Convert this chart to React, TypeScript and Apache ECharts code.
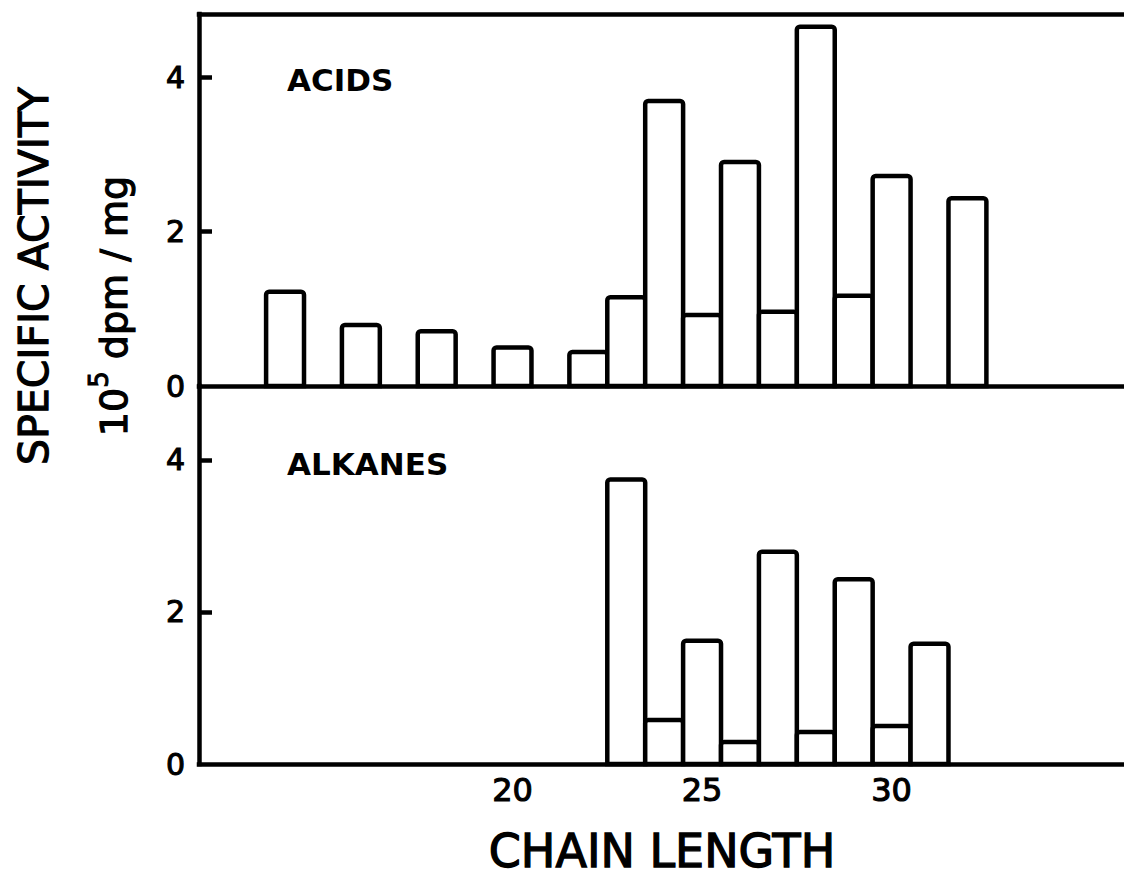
import React, { useEffect, useRef } from "react";
import * as echarts from "echarts";

// ---- Data ----
const acidChain = [14, 16, 18, 20, 22, 23, 24, 25, 26, 27, 28, 29, 30, 32];
const acidActivity = [1.22, 0.79, 0.71, 0.5, 0.44, 1.15, 3.69, 0.92, 2.9, 0.96, 4.65, 1.17, 2.72, 2.43];

const alkaneChain = [23, 24, 25, 26, 27, 28, 29, 30, 31];
const alkaneActivity = [3.74, 0.58, 1.62, 0.29, 2.79, 0.42, 2.43, 0.5, 1.58];

const xTickLabels = [20, 25, 30];
const yTickLabels = [0, 2, 4];

const panelTitles = ["ACIDS", "ALKANES"];
const xTitle = "CHAIN LENGTH";
const yTitle = "SPECIFIC ACTIVITY";

const FONT = "DejaVu Sans";
const BLACK = "#000";
const LW = 4.5;

const X_MIN = 11.73;
const X_MAX = 36.13;

function renderBar(params: any, api: any) {
  const x = api.value(0);
  const y = api.value(1);
  const p0 = api.coord([x - 0.5, 0]);
  const p1 = api.coord([x + 0.5, y]);
  return {
    type: "rect",
    shape: {
      x: p0[0],
      y: p1[1],
      width: p1[0] - p0[0],
      height: p0[1] - p1[1],
      r: [3, 3, 0, 0],
    },
    style: { fill: "#fff", stroke: BLACK, lineWidth: LW },
  };
}

const axisLine = { show: true, onZero: false, lineStyle: { color: BLACK, width: LW, cap: "square" } };

export default function App() {
  const ref = useRef<HTMLDivElement>(null);

  useEffect(() => {
    if (!ref.current) return;
    const chart = echarts.init(ref.current, null, { renderer: "svg" });

    const xBase = {
      type: "value",
      min: X_MIN,
      max: X_MAX,
      axisLine,
      axisTick: { show: false },
      splitLine: { show: false },
    };

    const yBase = (max: number, gridIndex: number) => ({
      type: "value",
      gridIndex,
      min: 0,
      max,
      axisLine,
      axisTick: {
        show: true,
        inside: true,
        length: 13,
        customValues: [2, 4],
        lineStyle: { color: BLACK, width: LW },
      },
      axisLabel: {
        customValues: yTickLabels,
        color: BLACK,
        fontFamily: FONT,
        fontSize: 30,
        margin: 14,
        textBorderColor: BLACK,
        textBorderWidth: 1.1,
      },
      splitLine: { show: false },
    });

    chart.setOption({
      animation: false,
      backgroundColor: "#fff",
      grid: [
        { left: 199, top: 14, width: 925, height: 372 },
        { left: 199, top: 386, width: 925, height: 378 },
      ],
      xAxis: [
        { ...xBase, gridIndex: 0, position: "bottom", axisLabel: { show: false } },
        { ...xBase, gridIndex: 0, position: "top", axisLabel: { show: false } },
        {
          ...xBase,
          gridIndex: 1,
          position: "bottom",
          axisLabel: {
            customValues: xTickLabels,
            color: BLACK,
            fontFamily: FONT,
            fontSize: 32,
            margin: 10,
            textBorderColor: BLACK,
            textBorderWidth: 1.1,
          },
        },
      ],
      yAxis: [yBase(4.816, 0), yBase(4.97, 1)],
      series: [
        {
          type: "custom",
          name: "Acids",
          xAxisIndex: 0,
          yAxisIndex: 0,
          data: acidChain.map((c, i) => [c, acidActivity[i]]),
          renderItem: renderBar,
          z: 1,
        },
        {
          type: "custom",
          name: "Alkanes",
          xAxisIndex: 2,
          yAxisIndex: 1,
          data: alkaneChain.map((c, i) => [c, alkaneActivity[i]]),
          renderItem: renderBar,
          z: 1,
        },
      ],
      graphic: [
        {
          type: "text",
          x: 287,
          y: 80,
          style: {
            text: panelTitles[0],
            fontFamily: FONT,
            fontWeight: "bold",
            fontSize: 31,
            fill: BLACK,
            textAlign: "left",
            textVerticalAlign: "middle",
          },
        },
        {
          type: "text",
          x: 287,
          y: 464,
          style: {
            text: panelTitles[1],
            fontFamily: FONT,
            fontWeight: "bold",
            fontSize: 31,
            fill: BLACK,
            textAlign: "left",
            textVerticalAlign: "middle",
          },
        },
        {
          type: "text",
          x: 662,
          y: 851,
          style: {
            text: xTitle,
            fontFamily: FONT,
            fontSize: 46,
            fill: BLACK,
            stroke: BLACK,
            lineWidth: 1.3,
            textAlign: "center",
            textVerticalAlign: "middle",
          },
        },
        {
          type: "text",
          x: 34,
          y: 276,
          rotation: Math.PI / 2,
          style: {
            text: yTitle,
            fontFamily: FONT,
            fontSize: 41,
            fill: BLACK,
            stroke: BLACK,
            lineWidth: 1.2,
            textAlign: "center",
            textVerticalAlign: "middle",
          },
        },
        {
          type: "text",
          x: 114,
          y: 306,
          rotation: Math.PI / 2,
          style: {
            text: "{a|10}{b|5}{a| dpm / mg}",
            fill: BLACK,
            stroke: BLACK,
            lineWidth: 1.2,
            textAlign: "center",
            textVerticalAlign: "middle",
            rich: {
              a: { fontFamily: FONT, fontSize: 38, lineHeight: 56, fill: BLACK, stroke: BLACK, lineWidth: 1.2 },
              b: {
                fontFamily: FONT,
                fontSize: 26,
                lineHeight: 24,
                verticalAlign: "top",
                fill: BLACK,
                stroke: BLACK,
                lineWidth: 1.0,
              },
            },
          },
        },
      ],
    });

    return () => chart.dispose();
  }, []);

  return (
    <div
      ref={ref}
      style={{ position: "absolute", left: 0, top: 0, width: 1124, height: 881, background: "#fff" }}
    />
  );
}
